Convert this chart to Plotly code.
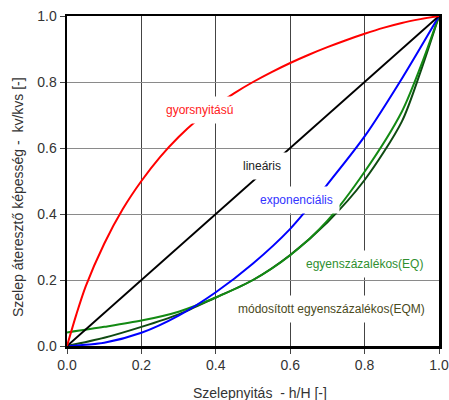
import plotly.graph_objects as go

# ---- data ----
red_x = [0, 0.025, 0.05, 0.1, 0.15, 0.2, 0.25, 0.3, 0.35, 0.4, 0.45, 0.5,
         0.55, 0.6, 0.65, 0.7, 0.75, 0.8, 0.85, 0.9, 0.95, 1.0]
red_y = [0, 0.095, 0.18, 0.31, 0.415, 0.50, 0.5725, 0.6335, 0.685, 0.7285, 0.7665, 0.80,
         0.83, 0.8575, 0.8825, 0.9055, 0.9265, 0.946, 0.964, 0.979, 0.9905, 1.0]

lin_x = [0, 1.0]
lin_y = [0, 1.0]

blue_x = [0, 0.1, 0.2, 0.3, 0.4, 0.5, 0.6, 0.7, 0.8, 0.9, 1.0]
blue_y = [0, 0.01, 0.04, 0.092, 0.163, 0.25, 0.355, 0.49, 0.635, 0.81, 1.0]

eq_x = [0, 0.1, 0.2, 0.3, 0.4, 0.5, 0.6, 0.7, 0.8, 0.9, 0.95, 1.0]
eq_y = [0.041, 0.058, 0.077, 0.104, 0.147, 0.2, 0.275, 0.38, 0.528, 0.71, 0.845, 1.0]

eqm_x = [0, 0.1, 0.2, 0.3, 0.4, 0.5, 0.6, 0.7, 0.8, 0.9, 0.95, 1.0]
eqm_y = [0, 0.025, 0.058, 0.096, 0.147, 0.2, 0.276, 0.375, 0.503, 0.68, 0.83, 1.0]

tick_vals = [0, 0.2, 0.4, 0.6, 0.8, 1.0]
tick_text = ["0.0", "0.2", "0.4", "0.6", "0.8", "1.0"]

labels = ["gyorsnyitású", "lineáris", "exponenciális", "egyenszázalékos(EQ)", "módosított egyenszázalékos(EQM)"]
label_x = [0.357, 0.524, 0.616, 0.801, 0.71]
label_y = [0.715, 0.545, 0.442, 0.25, 0.112]
label_colors = ["#ff2020", "#222222", "#3333ff", "#2f8f2f", "#4a4a1c"]

FONT = "Liberation Sans, Arial, sans-serif"

fig = go.Figure()
series = [
    (eqm_x, eqm_y, "#0f4a12"),
    (eq_x, eq_y, "#138a13"),
    (blue_x, blue_y, "#0000ff"),
    (lin_x, lin_y, "#000000"),
    (red_x, red_y, "#ff0000"),
]
for xs, ys, c in series:
    fig.add_trace(go.Scatter(x=xs, y=ys, mode="lines",
                             line=dict(color=c, width=2, shape="spline", smoothing=0.8),
                             showlegend=False, hoverinfo="skip"))

for t, x, y, c in zip(labels, label_x, label_y, label_colors):
    fig.add_annotation(x=x, y=y, xref="x", yref="y", text=t, showarrow=False,
                       font=dict(family=FONT, size=12, color=c),
                       bgcolor="white", borderpad=6)

fig.add_annotation(x=(260 - 67) / 372, y=-(393 - 346) / 330, xref="paper", yref="paper",
                   text="Szelepnyitás  - h/H [-]", showarrow=False,
                   font=dict(family=FONT, size=14, color="#333333"),
                   xanchor="center", yanchor="middle")
fig.add_annotation(x=-(67 - 18) / 372, y=(346 - 197) / 330, xref="paper", yref="paper",
                   text="Szelep áteresztő képesség -  kv/kvs [-]", showarrow=False,
                   textangle=-90,
                   font=dict(family=FONT, size=14, color="#333333"),
                   xanchor="center", yanchor="middle")

axis_common = dict(range=[0, 1], tickvals=tick_vals, ticktext=tick_text,
                   showline=True, linewidth=2.5, linecolor="black", mirror=True,
                   ticks="outside", ticklen=5, tickcolor="#444444", tickwidth=1,
                   tickfont=dict(family=FONT, size=14, color="#333333"),
                   zeroline=False, fixedrange=True, automargin=False)

fig.update_xaxes(**axis_common, showgrid=True, gridcolor="#444444", gridwidth=1)
fig.update_yaxes(**axis_common, showgrid=True, gridcolor="#8a8a8a", gridwidth=1)

fig.update_layout(width=449, height=400,
                  margin=dict(l=67, r=10, t=16, b=54, autoexpand=False),
                  plot_bgcolor="white", paper_bgcolor="white",
                  showlegend=False)

fig.write_html("out.html",
               config={"displayModeBar": False, "staticPlot": True},
               post_script="document.body.style.margin='0';document.body.style.overflow='hidden';")
